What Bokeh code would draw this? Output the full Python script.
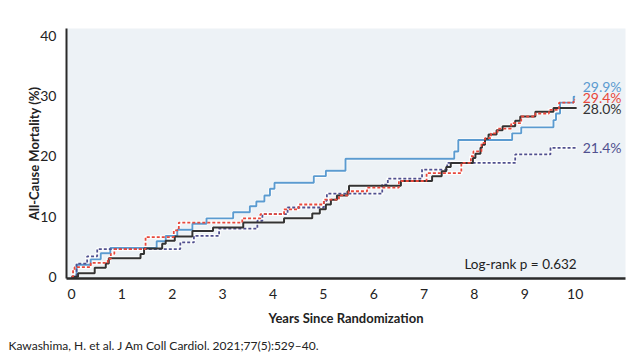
from bokeh.plotting import figure
from bokeh.models import Range1d, Label, Title, FixedTicker
from bokeh.embed import file_html
from bokeh.resources import INLINE

# ---- data ----
blue_t = [0, 0.10, 0.38, 0.58, 0.77, 1.69, 1.87, 2.10, 2.40, 2.68, 3.21, 3.54, 3.67, 3.83, 3.94, 4.03,
          4.81, 5.05, 5.44, 7.60, 7.68, 8.75, 8.93, 9.57, 9.62, 9.70, 9.97, 10.0]
blue_v = [0, 2.0, 2.9, 3.9, 4.8, 5.9, 6.8, 7.8, 8.8, 9.7, 10.7, 11.7, 12.5, 13.5, 14.6, 15.6,
          16.7, 17.6, 19.6, 20.8, 22.7, 23.8, 24.8, 26.0, 27.1, 28.9, 29.9, 29.9]

black_t = [0, 0.13, 0.46, 0.68, 0.74, 1.37, 1.44, 1.80, 1.87, 2.05, 2.40, 2.81, 3.41, 4.22, 4.78, 4.93,
           5.05, 5.15, 5.27, 5.48, 5.51, 6.54, 7.16, 7.35, 7.44, 7.53, 7.97, 8.02, 8.12, 8.15, 8.21,
           8.28, 8.44, 8.56, 8.81, 8.91, 9.21, 9.57, 10.03]
black_v = [0, 0.6, 1.5, 2.2, 3.1, 3.8, 4.7, 5.5, 6.0, 6.7, 7.6, 8.2, 9.0, 9.7, 10.5, 11.2,
           12.0, 12.8, 13.5, 14.2, 15.1, 15.9, 16.7, 17.5, 18.2, 18.9, 19.7, 20.4, 21.4, 21.9, 22.9,
           23.6, 24.3, 25.0, 25.9, 26.6, 27.4, 28.0, 28.0]

red_t = [0, 0.03, 0.06, 0.38, 0.72, 0.78, 0.85, 1.47, 2.03, 2.13, 3.39, 3.75, 4.22, 4.51, 5.01, 5.31,
         5.50, 5.87, 6.50, 7.05, 7.74, 7.93, 7.98, 8.14, 8.21, 8.33, 8.46, 8.73, 8.93, 9.21, 9.48,
         9.68, 9.97, 10.0]
red_v = [0, 1.1, 1.6, 2.3, 3.0, 3.8, 4.6, 6.6, 7.7, 9.0, 9.7, 10.4, 11.2, 12.0, 12.8, 13.5,
         14.2, 14.8, 15.9, 17.2, 18.9, 20.0, 20.8, 22.2, 23.0, 23.8, 24.6, 25.5, 26.6, 27.1, 27.7,
         28.9, 29.4, 29.4]

purple_t = [0, 0.10, 0.31, 0.51, 2.16, 2.43, 2.93, 3.69, 3.79, 4.29, 5.01, 5.07, 6.17, 6.28, 6.96,
            7.46, 8.81, 9.51, 10.03]
purple_v = [0, 2.2, 3.4, 4.6, 5.7, 6.8, 8.0, 9.3, 10.4, 11.5, 12.6, 13.8, 15.3, 16.3, 17.8,
            18.9, 20.3, 21.4, 21.4]

final_labels = ["29.9%", "29.4%", "28.0%", "21.4%"]
x_ticks = [0, 1, 2, 3, 4, 5, 6, 7, 8, 9, 10]
y_ticks = [0, 10, 20, 30, 40]
pvalue_text = "Log-rank p = 0.632"
citation = "Kawashima, H. et al. J Am Coll Cardiol. 2021;77(5):529\u201340."

BLUE = "#5B9BD0"
RED = "#E8473B"
BLACK = "#333333"
PURPLE = "#50508F"
FONT = "Lato"

p = figure(width=632, height=360, output_backend="svg", toolbar_location=None,
           x_range=Range1d(-0.1, 11.0), y_range=Range1d(-0.28, 41.2),
           min_border_left=66, min_border_right=7, min_border_top=28, min_border_bottom=80)
p.background_fill_color = "#EDF2F6"
p.border_fill_color = "white"
p.outline_line_color = None
p.xgrid.grid_line_color = None
p.ygrid.grid_line_color = None

# halo under lines
for t, v in [(blue_t, blue_v), (red_t, red_v), (black_t, black_v), (purple_t, purple_v)]:
    p.step(t, v, mode="after", line_color="white", line_width=3.6, line_alpha=0.8)

p.step(blue_t, blue_v, mode="after", line_color=BLUE, line_width=1.9)
p.step(purple_t, purple_v, mode="after", line_color=PURPLE, line_width=1.8, line_dash="3 2")
p.step(black_t, black_v, mode="after", line_color=BLACK, line_width=2.0)
p.step(red_t, red_v, mode="after", line_color=RED, line_width=1.8, line_dash="3 2")

# end labels
for txt, col, yy in [(final_labels[0], BLUE, 31.5), (final_labels[1], RED, 29.8),
                     (final_labels[2], BLACK, 28.0), (final_labels[3], PURPLE, 21.5)]:
    p.add_layout(Label(x=10.15, y=yy, text=txt, text_color=col, text_font=FONT,
                       text_font_size="14px", text_baseline="middle", text_align="left"))

p.add_layout(Label(x=10.03, y=2.2, text=pvalue_text, text_color="#222222", text_font=FONT,
                   text_font_size="13.5px", text_baseline="middle", text_align="right"))

# axes
for ax in (p.xaxis[0], p.yaxis[0]):
    ax.major_tick_line_color = None
    ax.minor_tick_line_color = None
    ax.axis_line_color = "#2a2a2a"
    ax.major_label_text_font = FONT
    ax.major_label_text_font_size = "14px"
    ax.major_label_text_color = "#222222"
    ax.axis_label_text_font = FONT
    ax.axis_label_text_font_style = "bold"
    ax.axis_label_text_font_size = "13px"
    ax.axis_label_text_color = "#222222"

p.xaxis.axis_line_width = 2.5
p.yaxis.axis_line_width = 2
p.xaxis.ticker = FixedTicker(ticks=x_ticks)
p.yaxis.ticker = FixedTicker(ticks=y_ticks)
p.xaxis.major_label_standoff = 4
p.yaxis.major_label_standoff = 4
p.xaxis.axis_label = "Years Since Randomization"
p.yaxis.axis_label = "All-Cause Mortality (%)"
p.xaxis.axis_label_standoff = 8
p.yaxis.axis_label_standoff = -5

# citation below the chart
p.add_layout(Title(text=citation, align="left", offset=-58, standoff=15, text_font=FONT,
                   text_font_size="12px", text_font_style="normal", text_color="#222222"), "below")

open("out.html", "w").write(file_html(p, INLINE))
